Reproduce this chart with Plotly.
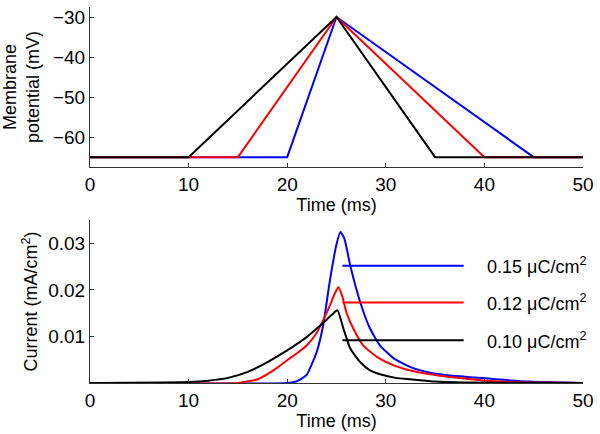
import plotly.graph_objects as go
from plotly.subplots import make_subplots

# ---- data ----
# Top panel: membrane potential ramps (time ms, potential mV)
t_v_black = [0, 10, 25, 35, 50]
v_black = [-65, -65, -30, -65, -65]
t_v_red = [0, 15, 25, 40, 50]
v_red = [-65, -65, -30, -65, -65]
t_v_blue = [0, 20, 25, 45, 50]
v_blue = [-65, -65, -30, -65, -65]

# Bottom panel: current (mA/cm^2)
t_i_black = [0, 10, 12, 14, 16, 18, 20, 21, 22, 23, 24, 24.6, 25.1, 25.7, 26.4, 27.4,
             28.4, 29.7, 31, 32.5, 35, 38, 50]
i_black = [0, 0.0002, 0.0005, 0.0011, 0.0024, 0.0045, 0.0070, 0.0084, 0.0099, 0.0117,
           0.0136, 0.0148, 0.0156, 0.0117, 0.0074, 0.0045, 0.0027, 0.0017, 0.0011,
           0.0008, 0.0003, 0.0001, 0]
t_i_red = [0, 15, 17, 18, 19, 20, 21, 22, 23, 23.65, 24.3, 24.8, 25.2, 25.6, 26.0,
           26.7, 27.7, 29.1, 30.8, 32.5, 34.5, 36.5, 41, 45, 50]
i_red = [0, 0, 0.0008, 0.0019, 0.0033, 0.0049, 0.0064, 0.0081, 0.0108, 0.0135,
         0.0165, 0.0191, 0.0206, 0.0185, 0.0152, 0.0117, 0.0081, 0.0056, 0.0038, 0.0027,
         0.0019, 0.0013, 0.0004, 0.0001, 0]
t_i_blue = [0, 20, 21, 22, 22.3, 23, 23.65, 24.3, 25, 25.4, 25.8, 26.4, 27.4, 28.4, 29.4,
            30.8, 32.5, 34.5, 36.5, 39, 41.2, 44.6, 48, 50]
i_blue = [0, 0, 0.0004, 0.0018, 0.0031, 0.0067, 0.0124, 0.0216, 0.0298, 0.0324, 0.031,
          0.0252, 0.0174, 0.0117, 0.0081, 0.0053, 0.0034, 0.0022, 0.0016, 0.0012, 0.0008,
          0.0003, 0.0001, 0]

labels = ["0.15 μC/cm<sup>2</sup>", "0.12 μC/cm<sup>2</sup>", "0.10 μC/cm<sup>2</sup>"]
label_colors = ["#0000ff", "#ff0000", "#000000"]
label_levels = [0.0252, 0.0173, 0.0092]

x_ticks = [0, 10, 20, 30, 40, 50]
v_ticks = [-60, -50, -40, -30]
i_ticks = [0.01, 0.02, 0.03]

# ---- figure ----
FONT = "Liberation Sans, Arial, Helvetica, sans-serif"
fig = make_subplots(rows=2, cols=1, shared_xaxes=False, vertical_spacing=0.14)

lw = 2
fig.add_trace(go.Scatter(x=t_v_blue, y=v_blue, mode="lines", line=dict(color="#0000ff", width=lw)), 1, 1)
fig.add_trace(go.Scatter(x=t_v_red, y=v_red, mode="lines", line=dict(color="#ff0000", width=lw)), 1, 1)
fig.add_trace(go.Scatter(x=t_v_black, y=v_black, mode="lines", line=dict(color="#000000", width=lw)), 1, 1)

fig.add_trace(go.Scatter(x=t_i_blue, y=i_blue, mode="lines", line=dict(color="#0000ff", width=lw, shape="spline", smoothing=0.5)), 2, 1)
fig.add_trace(go.Scatter(x=t_i_red, y=i_red, mode="lines", line=dict(color="#ff0000", width=lw, shape="spline", smoothing=0.5)), 2, 1)
fig.add_trace(go.Scatter(x=t_i_black, y=i_black, mode="lines", line=dict(color="#000000", width=lw, shape="spline", smoothing=0.5)), 2, 1)

# legend-like lines and labels
for lab, col, lev in zip(labels, label_colors, label_levels):
    fig.add_shape(type="line", xref="x2", yref="y2", x0=25.6, x1=37.9, y0=lev, y1=lev,
                  line=dict(color=col, width=lw))
    fig.add_annotation(xref="x2", yref="y2", x=40.1, y=lev, text=lab, showarrow=False,
                       xanchor="left", yanchor="middle",
                       font=dict(family=FONT, size=18, color="#000"))

axis_common = dict(showline=True, linecolor="#333", linewidth=1, ticks="inside",
                   ticklen=4, tickcolor="#333", showgrid=False, zeroline=False,
                   mirror=False, tickfont=dict(family=FONT, size=19, color="#000"))

fig.update_xaxes(range=[0, 50], tickvals=x_ticks, domain=[0, 1],
                 title=dict(text="Time (ms)", font=dict(family=FONT, size=18, color="#000"), standoff=0),
                 **axis_common)
fig.update_yaxes(**axis_common)
fig.update_yaxes(row=1, col=1, range=[-67.5, -27.5], tickvals=v_ticks, domain=[0.574, 1.0],
                 title=dict(text="Membrane<br>potential (mV)", font=dict(family=FONT, size=18, color="#000"), standoff=10))
fig.update_yaxes(row=2, col=1, range=[0, 0.035], tickvals=i_ticks, domain=[0.0, 0.4335],
                 title=dict(text="Current (mA/cm<sup>2</sup>)", font=dict(family=FONT, size=18, color="#000"), standoff=5))
fig.update_xaxes(row=1, col=1, anchor="y")
fig.update_xaxes(row=2, col=1, anchor="y2")

fig.update_layout(width=600, height=434, margin=dict(l=90, r=17, t=7, b=51),
                  plot_bgcolor="white", paper_bgcolor="white", showlegend=False,
                  font=dict(family=FONT, color="#000"))

fig.write_html("out.html", config={"displayModeBar": False},
               post_script="document.body.style.margin='0';")
